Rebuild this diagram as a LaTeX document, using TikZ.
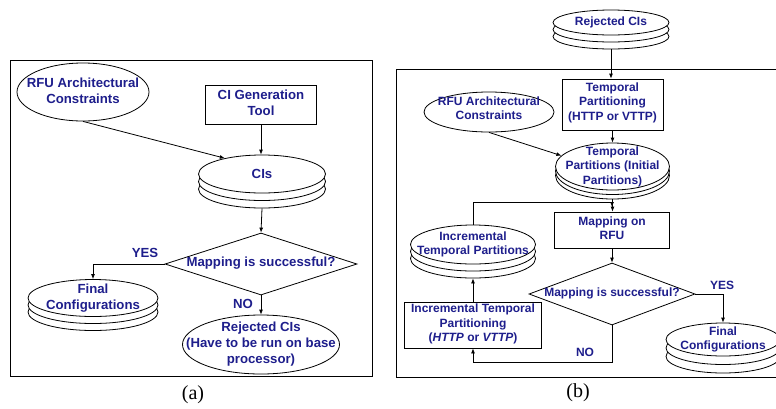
\documentclass[tikz,border=0pt]{standalone}
\usepackage{fontspec}
\setmainfont{Liberation Sans}
\newfontfamily\capfont{Liberation Serif}
\usetikzlibrary{shapes.geometric,arrows.meta}
\definecolor{navy}{RGB}{30,30,140}
\newcommand\diskstack[8]{%
  \node[oval, minimum width=#4pt, minimum height=#5pt] (#1c) at (#2,{#3+2*#6}) {};
  \node[oval, minimum width=#4pt, minimum height=#5pt] (#1b) at (#2,{#3+#6}) {};
  \node[oval, minimum width=#4pt, minimum height=#5pt] (#1) at (#2,#3) {};
  \node[#7] at (#1) {#8};
}
\begin{document}
\begin{tikzpicture}[x=1pt,y=-1pt,
  ln/.style={line width=0.8pt, draw=black},
  arr/.style={ln, -{Latex[length=5pt,width=4pt]}},
  ta/.style={font=\bfseries\fontsize{13.2}{16}\selectfont, text=navy, align=center, inner sep=0pt},
  tb/.style={font=\bfseries\fontsize{12}{14.5}\selectfont, text=navy, align=center, inner sep=0pt},
  captxt/.style={font=\capfont\fontsize{20}{24}\selectfont, inner sep=0pt},
  oval/.style={ellipse, ln, fill=white, inner sep=0pt},
  boxs/.style={rectangle, ln, fill=white, inner sep=0pt},
  dia/.style={diamond, ln, fill=white, inner sep=0pt},
]
\useasboundingbox (0,0) rectangle (776,408);
% ---------- (a) ----------
\draw[ln] (10,60) rectangle (372,376);
\node[oval, minimum width=132pt, minimum height=58pt] (rfuA) at (83,92) {};
\node[ta] at (83,91) {RFU Architectural\\Constraints};
\node[boxs, minimum width=111pt, minimum height=39pt] (cig) at (261,104.5) {};
\node[ta] at (261,103) {CI Generation\\Tool};
\diskstack{cis}{262}{174}{127}{38}{7.5}{ta}{CIs}
\node[dia, minimum width=192pt, minimum height=62pt] (decA) at (261,264) {};
\node[ta] at (261,263) {Mapping is successful?};
\diskstack{finA}{93}{298}{130}{37}{7}{ta}{Final\\Configurations}
\node[oval, minimum width=157pt, minimum height=59pt] (rejA) at (261,344.5) {};
\node[ta] at (261,344) {Rejected CIs\\(Have to be run on base\\processor)};
\node[ta] at (145,253) {YES};
\node[ta] at (243,304) {NO};
\node[captxt] at (193,395) {(a)};
\draw[arr] (rfuA.south) -- (cis.157);
\draw[arr] (cig.south) -- (cig.south |- cis.north);
\draw[arr] (cisc.south) -- (decA.north);
\draw[arr] (decA.west) -| (finA.north);
\draw[arr] (decA.south) -- (rejA.north);
% ---------- (b) ----------
\draw[ln] (396,69) rectangle (790,377);
\diskstack{rejB}{611}{22.5}{116}{25}{7}{tb}{Rejected CIs}
\node[boxs, minimum width=101pt, minimum height=51pt] (tpb) at (612.5,104.5) {};
\node[tb] at (612.5,102.5) {Temporal\\Partitioning\\(HTTP or VTTP)};
\node[oval, minimum width=130pt, minimum height=40pt] (rfuB) at (489,112) {};
\node[tb] at (489,108) {RFU Architectural\\Constraints};
\diskstack{tpt}{612.5}{166.5}{114}{47}{4.5}{tb}{Temporal\\Partitions (Initial\\Partitions)}
\node[boxs, minimum width=115pt, minimum height=36pt] (mapb) at (612,230) {};
\node[tb] at (612,228) {Mapping on\\RFU};
\node[dia, minimum width=166pt, minimum height=62pt] (decB) at (612,294) {};
\node[tb] at (612,293) {Mapping is successful?};
\diskstack{finB}{723}{339.5}{114}{33}{8.5}{tb}{Final\\Configurations}
\diskstack{itp}{473}{244.5}{125}{39}{7}{tb}{Incremental\\Temporal Partitions}
\node[boxs, minimum width=137pt, minimum height=46pt] (itb) at (473,325) {};
\node[tb] at (473,324) {Incremental Temporal\\Partitioning\\(\textit{HTTP} or \textit{VTTP})};
\node[tb] at (722,285) {YES};
\node[tb] at (585,352) {NO};
\node[captxt] at (578,393) {(b)};
\coordinate (junc) at (612,202);
\coordinate (junc2) at (612,207);
\coordinate (nob) at (612,362);
\draw[arr] (rejBc.south) -- (rejBc.south |- tpb.north);
\draw[arr] (tpb.south) -- (tpb.south |- tpt.north);
\draw[arr] (rfuB.south) -- (tpt.168);
\draw[arr] (tptc.south) -- (tptc.south |- mapb.north);
\draw[arr] (itp.north) |- (junc) -- (junc2);
\draw[arr] (mapb.south) -- (decB.north);
\draw[arr] (decB.east) -| (finB.north);
\draw[arr] (decB.south) -- (nob) -| (itb.south);
\draw[arr] (itb.north) -- (itb.north |- itpc.south);
\end{tikzpicture}
\end{document}
